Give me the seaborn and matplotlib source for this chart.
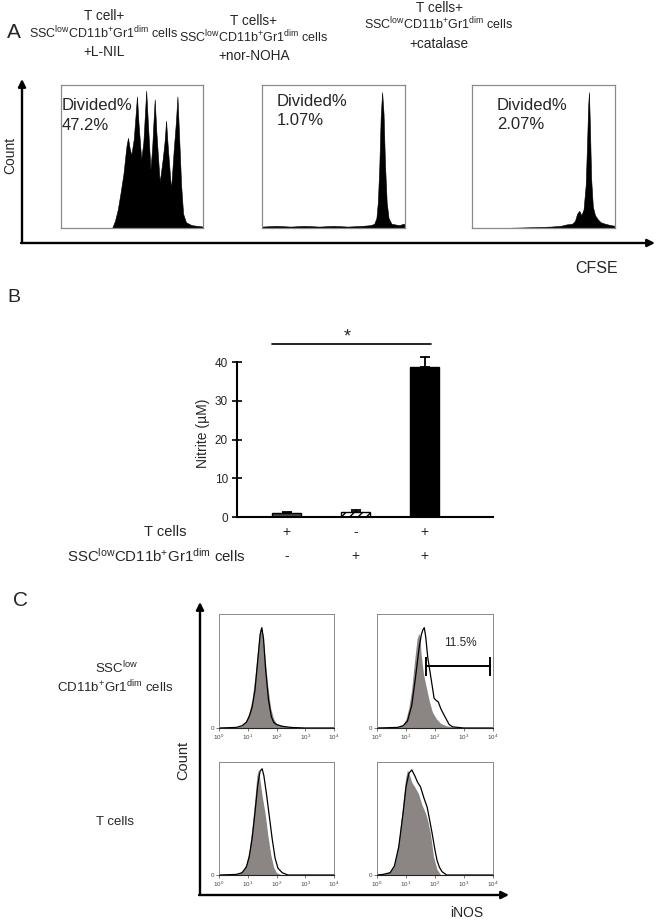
import numpy as np
import pandas as pd
import matplotlib
matplotlib.use('Agg')
import matplotlib.pyplot as plt
import matplotlib.transforms as mtrans
import seaborn as sns

sns.set_theme(style='white')
plt.rcParams['font.family'] = ['Liberation Sans', 'DejaVu Sans']
plt.rcParams['mathtext.fontset'] = 'custom'
plt.rcParams['mathtext.rm'] = 'Liberation Sans'
plt.rcParams['mathtext.it'] = 'Liberation Sans:italic'
plt.rcParams['mathtext.bf'] = 'Liberation Sans:bold'
plt.rcParams['mathtext.sf'] = 'Liberation Sans'

# ---------------- data ----------------
# Panel A: CFSE histograms (relative channel 0-100, % of box height)
a1_x = [0, 36, 38, 40, 42, 44, 45.5, 46.2, 47.2, 48.3, 49.5,
        51.2, 52.3, 53.5, 54.6, 56.5,
        58.0, 59.0, 60, 61.1, 63,
        64.2, 65.0, 66, 67.1, 69.5,
        71.6, 72.9, 74, 75.1, 77.5,
        79.4, 80.9, 82, 83.1, 84.6, 86, 88, 92, 96, 100]
a1_y = [0, 0, 5, 13, 25, 38, 52, 58, 63, 56, 51,
        62, 76, 92, 73, 48,
        60, 78, 96, 75, 41,
        56, 72, 90, 68, 32,
        48, 60, 75, 58, 27,
        55, 74, 92, 66, 30, 10, 4, 2, 1.5, 1]
a2_x = [0, 10, 20, 30, 40, 50, 60, 70, 76, 78.5, 80, 81, 82, 83, 84, 85, 86,
        87.2, 88.5, 90.5, 93, 96, 99, 100]
a2_y = [1, 1.5, 1, 1.5, 1, 1.5, 1, 1.5, 2, 3, 7, 18, 42, 78, 95, 80, 45,
        18, 7, 3, 2.5, 2, 3, 2]
a3_x = [0, 20, 40, 55, 62, 66, 70, 72, 73.5, 75, 76.5, 78, 79.5, 80.5, 81.2,
        81.8, 82.5, 83.3, 84.5, 86, 88, 90, 93, 97, 100]
a3_y = [0, 0, 0.5, 1, 1.5, 2.5, 3, 5, 10, 12, 9, 13, 30, 60, 85,
        95, 70, 35, 15, 9, 6, 4, 3, 2, 1.5]
a_titles = [["T cell+", "SSC$^{\\mathrm{low}}$CD11b$^{+}$Gr1$^{\\mathrm{dim}}$ cells", "+L-NIL"],
            ["T cells+", "SSC$^{\\mathrm{low}}$CD11b$^{+}$Gr1$^{\\mathrm{dim}}$ cells", "+nor-NOHA"],
            ["T cells+", "SSC$^{\\mathrm{low}}$CD11b$^{+}$Gr1$^{\\mathrm{dim}}$ cells", "+catalase"]]
a_divided = ["47.2%", "1.07%", "2.07%"]

# Panel B: nitrite
group_ids = ['T', 'S', 'TS']
nitrite_mean = [1.0, 1.4, 38.8]
nitrite_err = [0.2, 0.3, 2.4]
row_tcells = ['+', '-', '+']
row_ssc = ['-', '+', '+']
b_yticks = [0, 10, 20, 30, 40]

# Panel C: iNOS histograms (log10 intensity, % of box height)
c_tl_gray_lx = [0, 0.6, 0.8, 0.95, 1.05, 1.15, 1.25, 1.35, 1.42, 1.47, 1.52, 1.6, 1.7, 1.8, 1.9, 2.0, 2.2, 2.5, 3, 4]
c_tl_gray_y = [0, 0.5, 2, 7, 14, 25, 45, 70, 86, 89, 83, 62, 36, 17, 8, 4, 2, 0.5, 0, 0]
c_tl_line_lx = [0, 0.6, 0.8, 0.95, 1.05, 1.15, 1.25, 1.35, 1.43, 1.49, 1.55, 1.62, 1.72, 1.82, 1.9, 2.0, 2.2, 2.5, 3, 4]
c_tl_line_y = [0, 0.5, 2, 5, 10, 18, 33, 60, 82, 88, 78, 52, 25, 10, 5, 3, 1.5, 0.5, 0, 0]

c_tr_gray_lx = [0, 0.7, 0.9, 1.0, 1.1, 1.2, 1.3, 1.38, 1.44, 1.48, 1.52, 1.6, 1.68, 1.8, 1.91, 2.05, 2.2, 2.38, 2.6, 3, 4]
c_tr_gray_y = [0, 0.5, 3, 8, 18, 35, 60, 78, 83, 80, 65, 48, 38, 24, 14, 8, 4, 2, 1, 0, 0]
c_tr_line_lx = [0, 0.7, 0.9, 1.05, 1.2, 1.33, 1.45, 1.53, 1.58, 1.63, 1.68, 1.75, 1.86, 1.97, 2.05, 2.11, 2.2, 2.32, 2.49, 2.61, 3, 4]
c_tr_line_y = [0, 0.5, 2, 6, 20, 45, 70, 82, 86, 88, 80, 62, 44, 26, 24, 23, 17, 11, 3, 1, 0, 0]

c_bl_gray_lx = [0, 0.6, 0.8, 0.95, 1.05, 1.15, 1.25, 1.32, 1.37, 1.42, 1.5, 1.6, 1.7, 1.8, 1.9, 2.0, 2.2, 4]
c_bl_gray_y = [0, 0.5, 3, 10, 22, 42, 68, 88, 93, 85, 70, 55, 35, 18, 7, 2, 0, 0]
c_bl_line_lx = [0, 0.6, 0.8, 0.95, 1.05, 1.15, 1.25, 1.35, 1.43, 1.5, 1.56, 1.65, 1.75, 1.85, 1.95, 2.05, 2.2, 2.4, 4]
c_bl_line_y = [0, 0.5, 2, 7, 16, 32, 55, 80, 92, 94, 88, 72, 52, 32, 15, 6, 2, 0, 0]

c_br_gray_lx = [0, 0.2, 0.45, 0.6, 0.75, 0.88, 0.98, 1.05, 1.1, 1.2, 1.3, 1.43, 1.55, 1.67, 1.75, 1.84, 1.95, 2.07, 2.2, 4]
c_br_gray_y = [0, 0.5, 3, 10, 30, 60, 85, 93, 90, 82, 78, 72, 62, 55, 48, 37, 16, 5, 0, 0]
c_br_line_lx = [0, 0.2, 0.45, 0.6, 0.75, 0.9, 1.0, 1.1, 1.2, 1.3, 1.4, 1.5, 1.62, 1.73, 1.82, 1.9, 2.0, 2.07, 2.15, 2.24, 2.4, 4]
c_br_line_y = [0, 0.5, 2, 8, 25, 55, 78, 90, 93, 88, 82, 78, 68, 60, 48, 37, 22, 13, 7, 3, 0, 0]

gate_lx = [1.70, 3.90]
gate_y = 54
gate_label = "11.5%"
c_xtick_exp = [0, 1, 2, 3, 4]

# ---------------- layout ----------------
W, H = 656, 921
fig = plt.figure(figsize=(W / 100, H / 100), dpi=100)


def px_axes(x0, y0, x1, y1, **kw):
    return fig.add_axes([x0 / W, 1 - y1 / H, (x1 - x0) / W, (y1 - y0) / H], **kw)


ov = fig.add_axes([0, 0, 1, 1], zorder=10)
ov.set_xlim(0, W)
ov.set_ylim(H, 0)
ov.axis('off')
ov.patch.set_alpha(0)


def arrow(x0, y0, x1, y1):
    ov.annotate('', xy=(x1, y1), xytext=(x0, y0),
                arrowprops=dict(arrowstyle='-|>', lw=1.7, color='black',
                                mutation_scale=11, shrinkA=0, shrinkB=0))


# ---------------- Panel A ----------------
ov.text(14, 33, 'A', fontsize=15, ha='center', va='center')
title_pos = [(104, [20.5, 38, 55.5]), (254, [25, 42, 60]), (439, [11.5, 29, 48])]
for (cx, ys), lines in zip(title_pos, a_titles):
    for k, (yy, t) in enumerate(zip(ys, lines)):
        ov.text(cx, yy, t, fontsize=9.0 if k == 1 else 9.8, ha='center', va='baseline')

boxesA = [(61, 85, 203, 228), (262, 85, 405, 228), (472, 85, 615, 228)]
dataA = [(a1_x, a1_y), (a2_x, a2_y), (a3_x, a3_y)]
text_posA = [(62, 110, 130), (277, 106, 125), (497, 110, 129)]
for (x0, y0, x1, y1), (xs, ys), (tx, b1, b2), dv in zip(boxesA, dataA, text_posA, a_divided):
    ax = px_axes(x0, y0, x1, y1)
    ax.fill_between(xs, ys, 0, color='black', lw=0.4, edgecolor='black')
    ax.set_xlim(0, 100)
    ax.set_ylim(0, 100)
    ax.set_xticks([])
    ax.set_yticks([])
    for s in ax.spines.values():
        s.set_color('#8a8a8a')
        s.set_linewidth(0.9)
    ov.text(tx, b1, 'Divided%', fontsize=12, ha='left', va='baseline')
    ov.text(tx, b2, dv, fontsize=12, ha='left', va='baseline')

arrow(22, 243, 22, 79)
arrow(21, 243, 655, 243)
ov.text(10, 155, 'Count', fontsize=10, rotation=90, ha='center', va='center')
ov.text(597, 268, 'CFSE', fontsize=11.5, ha='center', va='center')

# ---------------- Panel B ----------------
ov.text(14, 297, 'B', fontsize=14, ha='center', va='center')
axB = px_axes(237, 362, 493, 517)
df_b = pd.DataFrame({'group': group_ids, 'nitrite': nitrite_mean})
bar_colors = {'T': '#474747', 'S': '#ffffff', 'TS': '#000000'}
sns.barplot(data=df_b, x='group', y='nitrite', hue='group', order=group_ids,
            hue_order=group_ids, palette=bar_colors, legend=False, width=0.42,
            edgecolor='black', linewidth=1.0, ax=axB)
axB.patches[1].set_hatch('////')
axB.errorbar(range(len(group_ids)), nitrite_mean,
             yerr=[np.zeros(len(group_ids)), nitrite_err], fmt='none',
             ecolor='black', elinewidth=1.3, capsize=3.5, capthick=1.3, clip_on=False)
axB.set_xlim(-0.72, 2.99)
axB.set_ylim(0, 40)
axB.set_yticks(b_yticks)
axB.set_xticks([])
axB.set_xlabel('')
axB.set_ylabel('')
axB.tick_params(axis='y', direction='inout', length=7, width=1.4, labelsize=8.5, pad=3,
                left=True)
for side in ['top', 'right']:
    axB.spines[side].set_visible(False)
for side in ['left', 'bottom']:
    axB.spines[side].set_color('black')
    axB.spines[side].set_linewidth(1.5)
axB.set_facecolor('none')

blend = mtrans.blended_transform_factory(axB.transData, ov.transData)
for i, (s1, s2) in enumerate(zip(row_tcells, row_ssc)):
    ov.text(i, 532, s1, transform=blend, fontsize=10, ha='center', va='center')
    ov.text(i, 556, s2, transform=blend, fontsize=10, ha='center', va='center')
ov.text(165, 532, 'T cells', fontsize=10.5, ha='center', va='center')
ov.text(156, 556, 'SSC$^{\\mathrm{low}}$CD11b$^{+}$Gr1$^{\\mathrm{dim}}$ cells',
        fontsize=10.8, ha='center', va='center')
ov.text(203, 433, 'Nitrite (µM)', fontsize=10, rotation=90, ha='center', va='center')
# significance bar
ov.plot([-0.22, 2.09], [344, 344], transform=blend, color='black', lw=1.2)
ov.text(0.88, 337, '*', transform=blend, fontsize=13, ha='center', va='center')

# ---------------- Panel C ----------------
ov.text(20, 600, 'C', fontsize=15, ha='center', va='center')
gray = '#8b8583'
boxesC = [(219, 614, 334, 728), (377, 614, 493, 728), (219, 762, 334, 875), (377, 762, 493, 875)]
dataC = [(c_tl_gray_lx, c_tl_gray_y, c_tl_line_lx, c_tl_line_y),
         (c_tr_gray_lx, c_tr_gray_y, c_tr_line_lx, c_tr_line_y),
         (c_bl_gray_lx, c_bl_gray_y, c_bl_line_lx, c_bl_line_y),
         (c_br_gray_lx, c_br_gray_y, c_br_line_lx, c_br_line_y)]
axesC = []
for (x0, y0, x1, y1), (glx, gy, llx, ly) in zip(boxesC, dataC):
    ax = px_axes(x0, y0, x1, y1)
    ax.fill_between(10 ** np.array(glx), gy, 0, color=gray, lw=0)
    ax.plot(10 ** np.array(llx), ly, color='black', lw=0.9)
    ax.set_xscale('log')
    ax.set_xlim(1, 1e4)
    ax.set_ylim(0, 100)
    ax.set_xticks([10 ** e for e in c_xtick_exp])
    ax.set_xticklabels(['$10^{%d}$' % e for e in c_xtick_exp], fontsize=4.5, color='#444444')
    ax.set_yticks([0])
    ax.set_yticklabels(['0'], fontsize=4.5, color='#444444')
    ax.tick_params(axis='both', which='major', direction='out', length=2, width=0.5,
                   pad=1.5, bottom=True, left=True, colors='#444444')
    ax.tick_params(axis='x', which='minor', direction='out', length=1.2, width=0.4,
                   bottom=True, colors='#444444')
    ax.grid(False)
    for s in ax.spines.values():
        s.set_color('#8a8a8a')
        s.set_linewidth(0.7)
    ax.spines['bottom'].set_color('#222222')
    ax.spines['bottom'].set_linewidth(0.8)
    axesC.append(ax)

axTR = axesC[1]
gx = [10 ** v for v in gate_lx]
axTR.plot(gx, [gate_y, gate_y], color='black', lw=1.4)
axTR.vlines(gx, gate_y - 8, gate_y + 8, color='black', lw=1.4)
ov.text(460, 643, gate_label, fontsize=8.5, ha='center', va='center')

arrow(200, 895, 200, 602)
arrow(199, 895, 509, 895)
ov.text(183, 760, 'Count', fontsize=10.5, rotation=90, ha='center', va='center')
ov.text(467, 913, 'iNOS', fontsize=10, ha='center', va='center')
ov.text(117, 668, 'SSC$^{\\mathrm{low}}$', fontsize=9.5, ha='center', va='center')
ov.text(115, 687, 'CD11b$^{+}$Gr1$^{\\mathrm{dim}}$ cells', fontsize=9.5, ha='center', va='center')
ov.text(115, 822, 'T cells', fontsize=9.5, ha='center', va='center')

fig.savefig('out.png', dpi=100)
